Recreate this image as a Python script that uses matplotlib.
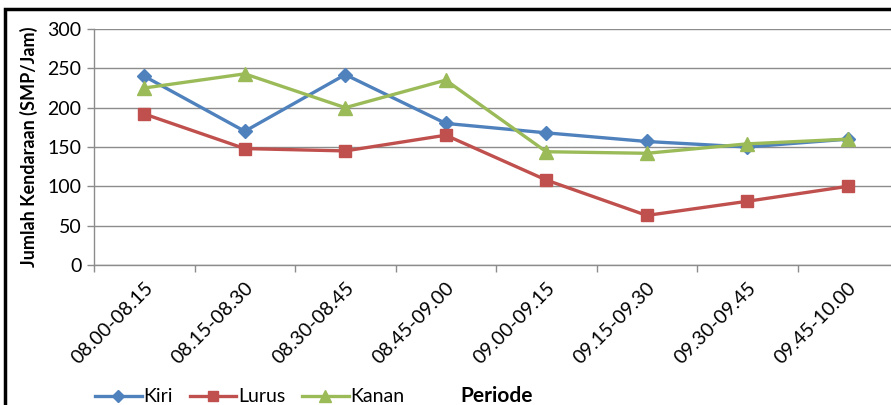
import matplotlib
matplotlib.use("Agg")
import matplotlib.pyplot as plt
from matplotlib.lines import Line2D
from matplotlib.patches import Rectangle

# ── Data ────────────────────────────────────────────────────────────────────
periods = ["08.00-08.15", "08.15-08.30", "08.30-08.45", "08.45-09.00",
           "09.00-09.15", "09.15-09.30", "09.30-09.45", "09.45-10.00"]
kiri  = [240, 170, 242, 180, 168, 157, 150, 160]
lurus = [192, 148, 145, 165, 108, 63, 81, 100]
kanan = [225, 243, 200, 235, 144, 142, 154, 160]

BLUE  = "#4F81BD"
RED   = "#C0504D"
GREEN = "#9BBB59"
GRID  = "#8c8c8c"

plt.rcParams["font.family"] = ["Lato", "DejaVu Sans"]

fig = plt.figure(figsize=(8.91, 4.05), dpi=100)
ax = fig.add_axes([94 / 891, 1 - 265 / 405, 804 / 891, 236 / 405])

x = list(range(len(periods)))
ax.plot(x, kiri, color=BLUE, lw=2.4, marker="D", ms=7.5, label="Kiri", zorder=3)
ax.plot(x, lurus, color=RED, lw=2.4, marker="s", ms=9, label="Lurus", zorder=3)
ax.plot(x, kanan, color=GREEN, lw=2.4, marker="^", ms=10, label="Kanan", zorder=3)

ax.set_xlim(-0.5, len(periods) - 0.5)
ax.set_ylim(0, 300)
ax.set_yticks(range(0, 301, 50))
ax.yaxis.grid(True, color=GRID, lw=1.0)
ax.set_axisbelow(True)

ax.set_xticks(x)
ax.set_xticklabels(periods, rotation=45, ha="right", rotation_mode="anchor",
                   fontsize=14)
ax.set_xticks([i - 0.5 for i in range(len(periods) + 1)], minor=True)
ax.tick_params(axis="x", which="major", length=0, pad=10)
ax.tick_params(axis="x", which="minor", length=5, color=GRID, width=1)
ax.tick_params(axis="y", length=5, color=GRID, width=1, labelsize=14, pad=4)

for side in ["top", "right"]:
    ax.spines[side].set_visible(False)
for side in ["left", "bottom"]:
    ax.spines[side].set_color(GRID)
    ax.spines[side].set_linewidth(1.0)

ax.set_ylabel("Jumlah Kendaraan (SMP/Jam)", fontsize=13, fontweight="bold",
              labelpad=7)

# legend + axis title along the bottom
handles = [Line2D([], [], color=BLUE, lw=2.4, marker="D", ms=6),
           Line2D([], [], color=RED, lw=2.4, marker="s", ms=7.5),
           Line2D([], [], color=GREEN, lw=2.4, marker="^", ms=8)]
fig.legend(handles, ["Kiri", "Lurus", "Kanan"], loc="center left",
           bbox_to_anchor=(95 / 891, 1 - 397 / 405), ncol=3, frameon=False,
           fontsize=14, handlelength=2.4, handletextpad=0.1,
           columnspacing=0.85, borderpad=0, borderaxespad=0)
fig.text(497 / 891, 1 - 396 / 405, "Periode", ha="center", va="center",
         fontsize=15, fontweight="bold")

# outer chart border (cropped at right and bottom)
fig.patches.append(Rectangle((5 / 891, -0.2), 1.2, 1 - 9 / 405 + 0.2,
                             transform=fig.transFigure, fill=False,
                             ec="black", lw=2.5))

fig.savefig("out.png", dpi=100)
